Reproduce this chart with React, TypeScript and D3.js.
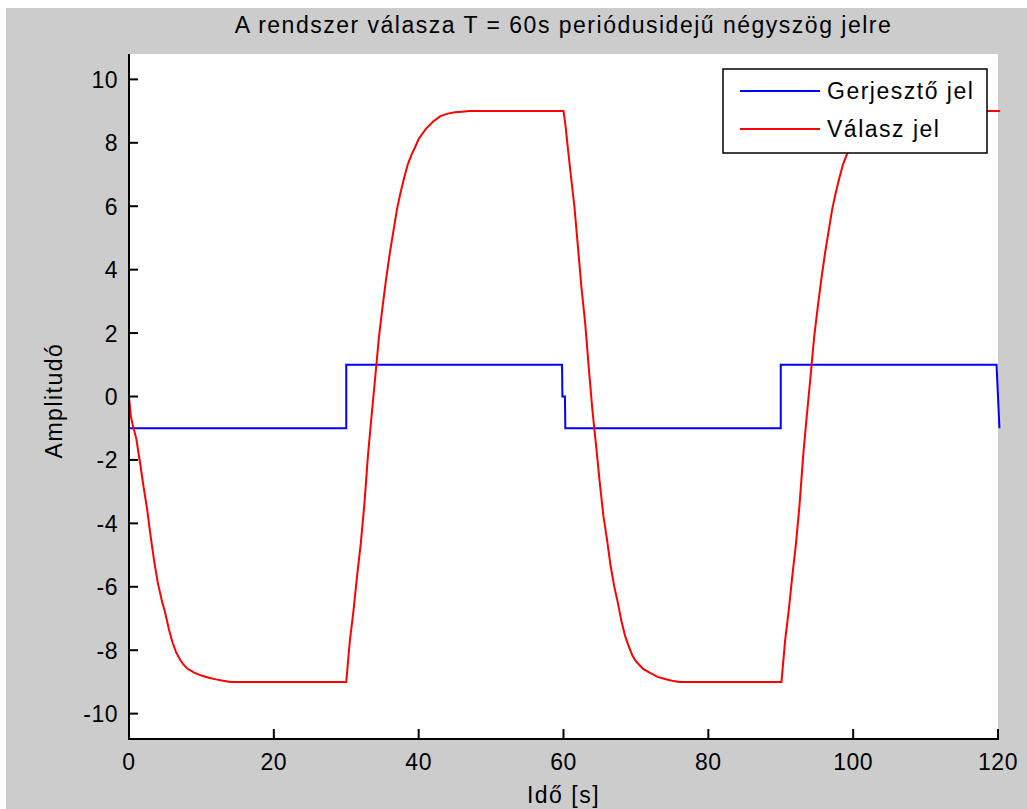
import React from "react";
import * as d3 from "d3";

// step input (Gerjesztő jel)
const inputT = [0, 30, 30, 59.8, 59.85, 60.2, 60.25, 90, 90, 119.8, 120, 120.2];
const inputV = [-1, -1, 1, 1, 0, 0, -1, -1, 1, 1, 0, -1];

// response (Válasz jel)
const respStart: [number, number][] = [
  [0, 0], [0.25, -0.62], [0.5, -0.88], [1, -1.32], [1.5, -2.05], [2, -2.83],
  [2.5, -3.55], [3, -4.43], [3.5, -5.23], [4, -5.9], [4.5, -6.4], [5, -6.83],
  [5.5, -7.33], [6, -7.75], [6.5, -8.06], [7, -8.28], [7.5, -8.45], [8, -8.57],
  [9, -8.71], [10, -8.8], [11, -8.87], [12, -8.92], [13, -8.96], [14, -9], [30, -9],
];
const respRise1: [number, number][] = [
  [30, -9], [30.5, -7.7], [31, -6.75], [31.5, -5.65], [32, -4.65], [32.5, -3.4],
  [33, -1.85], [33.5, -0.6], [34, 0.6], [34.5, 1.85], [35, 2.8], [35.5, 3.7],
  [36, 4.5], [36.5, 5.2], [37, 5.9], [37.5, 6.43], [38, 6.9], [38.5, 7.32],
  [39, 7.62], [39.5, 7.86], [40, 8.12], [41, 8.44], [42, 8.67], [43, 8.84],
  [44, 8.92], [45, 8.96], [46, 8.98], [47, 9], [60, 9],
];
const respFall: [number, number][] = [
  [60, 9], [60.25, 8.6], [60.5, 8.05], [61, 7.0], [61.5, 6.0], [62, 4.7],
  [62.5, 3.39], [63, 2.3], [63.5, 0.88], [64, -0.45], [64.5, -1.55], [65, -2.7],
  [65.5, -3.75], [66, -4.5], [66.5, -5.33], [67, -5.98], [67.5, -6.5], [68, -7.08],
  [68.5, -7.55], [69, -7.87], [69.5, -8.16], [70, -8.35], [71, -8.59], [72, -8.72],
  [73, -8.84], [74, -8.91], [75, -8.96], [76, -9], [90, -9],
];
const respRise2: [number, number][] = [
  [90.1, -9], [90.6, -7.7], [91.1, -6.75], [91.6, -5.65], [92.1, -4.65], [92.6, -3.4],
  [93.1, -1.85], [93.6, -0.6], [94.1, 0.6], [94.6, 1.85], [95.1, 2.8], [95.6, 3.7],
  [96.1, 4.5], [96.6, 5.2], [97.1, 5.9], [97.6, 6.43], [98.1, 6.9], [98.6, 7.32],
  [99.1, 7.62], [99.6, 7.86], [100.1, 8.12], [101.1, 8.44], [102.1, 8.67], [103.1, 8.84],
  [104.1, 8.92], [105.1, 8.96], [106.1, 8.98], [107.1, 9], [120.3, 9],
];

const xTicks = [0, 20, 40, 60, 80, 100, 120];
const yTicks = [-10, -8, -6, -4, -2, 0, 2, 4, 6, 8, 10];
const legendLabels = ["Gerjesztő jel", "Válasz jel"];
const title = "A rendszer válasza T = 60s periódusidejű négyszög jelre";

const W = 1027;
const H = 809;
const font = "'Liberation Sans', Arial, sans-serif";
const fs = 23;
const ls = 1.5; // windows-ish wide glyph spacing

export default function App() {
  const x = d3.scaleLinear().domain([0, 120]).range([129, 998]);
  const y = d3.scaleLinear().domain([-10.8, 10.8]).range([739, 54]);

  const line = d3
    .line<[number, number]>()
    .x((d) => x(d[0]))
    .y((d) => y(d[1]));

  const inputPts = inputT.map((t, i) => [t, inputV[i]] as [number, number]);
  const respPts = [...respStart, ...respRise1, ...respFall, ...respRise2];

  const [x0, x1] = x.range();
  const [yb, yt] = y.range();

  return (
    <svg
      width={W}
      height={H}
      style={{ position: "absolute", left: 0, top: 0, display: "block" }}
      fontFamily={font}
    >
      <rect x={0} y={0} width={W} height={H} fill="#fff" />
      <rect x={6} y={8} width={W - 6} height={H - 8} fill="#cccccc" />
      <rect x={x0} y={yt} width={x1 - x0} height={yb - yt} fill="#fff" />

      <path d={line(inputPts) ?? ""} fill="none" stroke="#0000ff" strokeWidth={2} />
      <path d={line(respPts) ?? ""} fill="none" stroke="#ff0000" strokeWidth={2} />

      {/* axes */}
      <line x1={x0} x2={x0} y1={yt} y2={yb + 1} stroke="#000" strokeWidth={2} />
      <line x1={x0 - 1} x2={x1 + 1} y1={yb} y2={yb} stroke="#000" strokeWidth={2} />
      {yTicks.map((v) => (
        <g key={"y" + v}>
          <line x1={x0} x2={x0 + 9} y1={y(v)} y2={y(v)} stroke="#000" strokeWidth={2} />
          <text x={x0 - 11} y={y(v) + 8.5} textAnchor="end" fontSize={fs} fill="#000" letterSpacing={0.5}>
            {String(v)}
          </text>
        </g>
      ))}
      {xTicks.map((v) => (
        <g key={"x" + v}>
          <line x1={x(v)} x2={x(v)} y1={yb} y2={yb - 10} stroke="#000" strokeWidth={2} />
          <text x={x(v)} y={yb + 31} textAnchor="middle" fontSize={fs} fill="#000" letterSpacing={0.5}>
            {String(v)}
          </text>
        </g>
      ))}

      {/* labels */}
      <text x={(x0 + x1) / 2} y={33} textAnchor="middle" fontSize={fs} fill="#000" letterSpacing={ls}>
        {title}
      </text>
      <text x={(x0 + x1) / 2} y={803} textAnchor="middle" fontSize={fs} fill="#000" letterSpacing={ls}>
        Idő [s]
      </text>
      <text
        transform={`translate(62, ${y(0) + 4}) rotate(-90)`}
        textAnchor="middle"
        fontSize={fs}
        fill="#000"
        letterSpacing={ls}
      >
        Amplitudó
      </text>

      {/* legend */}
      <rect x={723} y={69} width={264} height={84} fill="#fff" stroke="#000" strokeWidth={1.5} />
      {legendLabels.map((lab, i) => (
        <g key={lab}>
          <line
            x1={740}
            x2={820}
            y1={91 + i * 38}
            y2={91 + i * 38}
            stroke={i === 0 ? "#0000ff" : "#ff0000"}
            strokeWidth={2}
          />
          <text x={827} y={99 + i * 38} fontSize={fs} fill="#000" letterSpacing={ls}>
            {lab}
          </text>
        </g>
      ))}
    </svg>
  );
}
